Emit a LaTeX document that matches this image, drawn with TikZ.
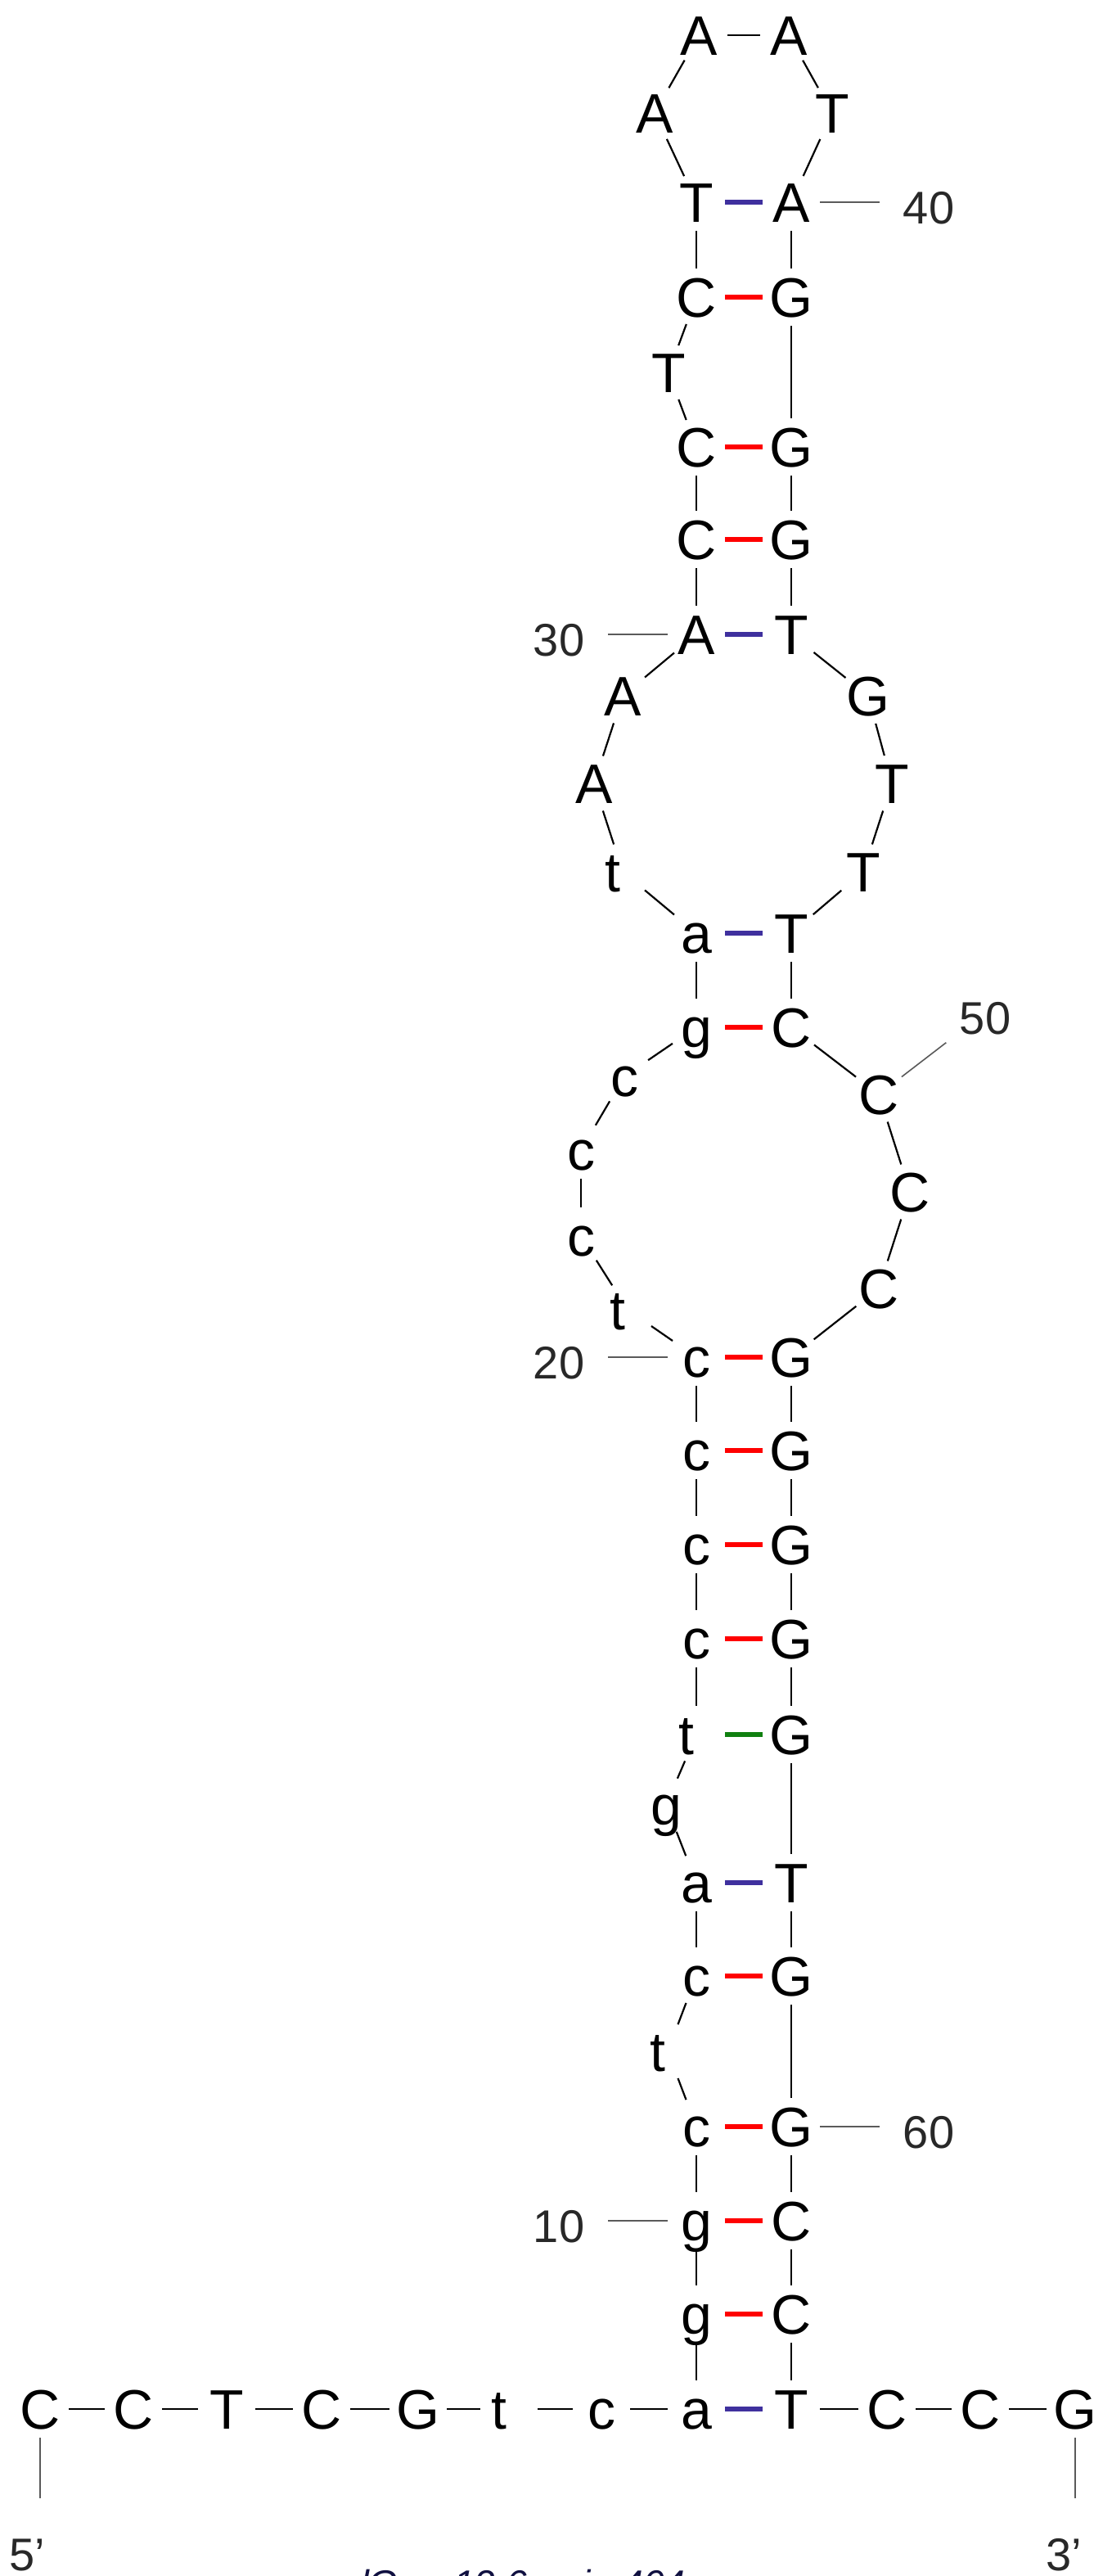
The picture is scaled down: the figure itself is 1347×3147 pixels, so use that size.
\documentclass[tikz,border=0pt]{standalone}
\usepackage{fontspec}
\setmainfont{Liberation Sans}
\definecolor{bpred}{RGB}{255,0,0}
\definecolor{bpblue}{RGB}{63,48,158}
\definecolor{bpgreen}{RGB}{16,128,16}
\definecolor{numgray}{RGB}{40,40,40}
\definecolor{linegray}{RGB}{90,90,90}
\definecolor{titlenavy}{RGB}{16,16,64}
\newcommand\nb[1]{\makebox[0pt]{#1}}
\newcommand\tsh{\makebox[0pt]{\kern-24pt t}}
\begin{document}
\begin{tikzpicture}[x=1pt,y=-1pt,
  nt/.style={circle,inner sep=0pt,minimum size=70pt,text height=49pt,text depth=0pt,font=\fontsize{68}{80}\selectfont},
  bb/.style={line width=2.2pt,black},
  pr/.style={line width=5.5pt,bpred},
  pb/.style={line width=5.5pt,bpblue},
  pg/.style={line width=5.5pt,bpgreen},
  numlab/.style={circle,inner sep=0pt,minimum size=120pt,text height=52pt,text depth=0pt,font=\fontsize{56}{66}\selectfont,text=numgray},
  numline/.style={line width=1.6pt,linegray},
  endlab/.style={anchor=base west,inner sep=0pt,font=\fontsize{56}{66}\selectfont,text=numgray}]
\useasboundingbox (0,0) rectangle (1347,3147);
\fill[white] (0,0) rectangle (1347,3147);
% bottom row (5' side)
\node[nt] (n1) at (49,2943) {\nb{C}};
\node[nt] (n2) at (163,2943) {\nb{C}};
\node[nt] (n3) at (277,2943) {\nb{T}};
\node[nt] (n4) at (393,2943) {\nb{C}};
\node[nt] (n5) at (511,2943) {\nb{G}};
\node[nt] (n6) at (622,2943) {\tsh};
\node[nt] (n7) at (735,2943) {\nb{c}};
\node[nt] (n8) at (851,2943) {\nb{a}};
% left strand
\node[nt] (n9) at (851,2827) {\nb{g}};
\node[nt] (n10) at (851,2713) {\nb{g}};
\node[nt] (n11) at (851,2598) {\nb{c}};
\node[nt] (n12) at (816,2506) {\tsh};
\node[nt] (n13) at (851,2414) {\nb{c}};
\node[nt] (n14) at (851,2300) {\nb{a}};
\node[nt] (n15) at (814,2205) {\nb{g}};
\node[nt] (n16) at (851,2119) {\tsh};
\node[nt] (n17) at (851,2002) {\nb{c}};
\node[nt] (n18) at (851,1887) {\nb{c}};
\node[nt] (n19) at (851,1772) {\nb{c}};
\node[nt] (n20) at (851,1658) {\nb{c}};
\node[nt] (n21) at (767,1600) {\tsh};
\node[nt] (n22) at (710,1510) {\nb{c}};
\node[nt] (n23) at (710,1405) {\nb{c}};
\node[nt] (n24) at (763,1315) {\nb{c}};
\node[nt] (n25) at (851,1255) {\nb{g}};
\node[nt] (n26) at (851,1140) {\nb{a}};
\node[nt] (n27) at (761,1065) {\tsh};
\node[nt] (n28) at (726,957) {\nb{A}};
\node[nt] (n29) at (761,850) {\nb{A}};
\node[nt] (n30) at (851,775) {\nb{A}};
\node[nt] (n31) at (851,659) {\nb{C}};
\node[nt] (n32) at (851,546) {\nb{C}};
\node[nt] (n33) at (817,455) {\nb{T}};
\node[nt] (n34) at (851,363) {\nb{C}};
\node[nt] (n35) at (851,247) {\nb{T}};
% hairpin loop
\node[nt] (n36) at (800,138) {\nb{A}};
\node[nt] (n37) at (854,43) {\nb{A}};
\node[nt] (n38) at (964,43) {\nb{A}};
\node[nt] (n39) at (1017,138) {\nb{T}};
% right strand
\node[nt] (n40) at (967,247) {\nb{A}};
\node[nt] (n41) at (967,363) {\nb{G}};
\node[nt] (n42) at (967,546) {\nb{G}};
\node[nt] (n43) at (967,659) {\nb{G}};
\node[nt] (n44) at (967,775) {\nb{T}};
\node[nt] (n45) at (1061,850) {\nb{G}};
\node[nt] (n46) at (1090,957) {\nb{T}};
\node[nt] (n47) at (1055,1065) {\nb{T}};
\node[nt] (n48) at (967,1140) {\nb{T}};
\node[nt] (n49) at (967,1255) {\nb{C}};
\node[nt] (n50) at (1074,1337) {\nb{C}};
\node[nt] (n51) at (1112,1456) {\nb{C}};
\node[nt] (n52) at (1074,1574) {\nb{C}};
\node[nt] (n53) at (967,1658) {\nb{G}};
\node[nt] (n54) at (967,1772) {\nb{G}};
\node[nt] (n55) at (967,1887) {\nb{G}};
\node[nt] (n56) at (967,2002) {\nb{G}};
\node[nt] (n57) at (967,2119) {\nb{G}};
\node[nt] (n58) at (967,2300) {\nb{T}};
\node[nt] (n59) at (967,2414) {\nb{G}};
\node[nt] (n60) at (967,2598) {\nb{G}};
\node[nt] (n61) at (967,2713) {\nb{C}};
\node[nt] (n62) at (967,2827) {\nb{C}};
\node[nt] (n63) at (967,2943) {\nb{T}};
% bottom row (3' side)
\node[nt] (n64) at (1084,2943) {\nb{C}};
\node[nt] (n65) at (1198,2943) {\nb{C}};
\node[nt] (n66) at (1314,2943) {\nb{G}};
% backbone
\foreach \i [evaluate=\i as \j using int(\i+1)] in {1,...,65}
  \draw[bb] (n\i) -- (n\j);
% base pairs
\foreach \a/\b in {34/41,32/42,31/43,25/49,20/53,19/54,18/55,17/56,13/59,11/60,10/61,9/62}
  \draw[pr] (n\a) -- (n\b);
\foreach \a/\b in {35/40,30/44,26/48,14/58,8/63}
  \draw[pb] (n\a) -- (n\b);
\draw[pg] (n16) -- (n57);
% numbering
\node[numlab] (l10) at (683,2713) {\nb{10}};
\node[numlab] (l20) at (683,1658) {\nb{20}};
\node[numlab] (l30) at (683,775) {\nb{30}};
\node[numlab] (l40) at (1135,247) {\nb{40}};
\node[numlab] (l50) at (1204,1237) {\nb{50}};
\node[numlab] (l60) at (1135,2598) {\nb{60}};
\draw[numline] (n10) -- (l10);
\draw[numline] (n20) -- (l20);
\draw[numline] (n30) -- (l30);
\draw[numline] (n40) -- (l40);
\draw[numline] (n50) -- (l50);
\draw[numline] (n60) -- (l60);
% ends
\coordinate (e5) at (49,3052);
\coordinate (e3) at (1314,3052);
\draw[numline] (n1) -- (e5);
\draw[numline] (n66) -- (e3);
\node[endlab] (t5) at (11,3140) {5’};
\node[endlab] (t3) at (1278,3140) {3’};
% caption (cut by the lower edge, as in the reference)
\node[anchor=base west,inner sep=0pt,font=\fontsize{46}{54}\selectfont\itshape,text=titlenavy] (title) at (425,3172) {dG = -12.6 ... in 404};
\end{tikzpicture}
\end{document}
